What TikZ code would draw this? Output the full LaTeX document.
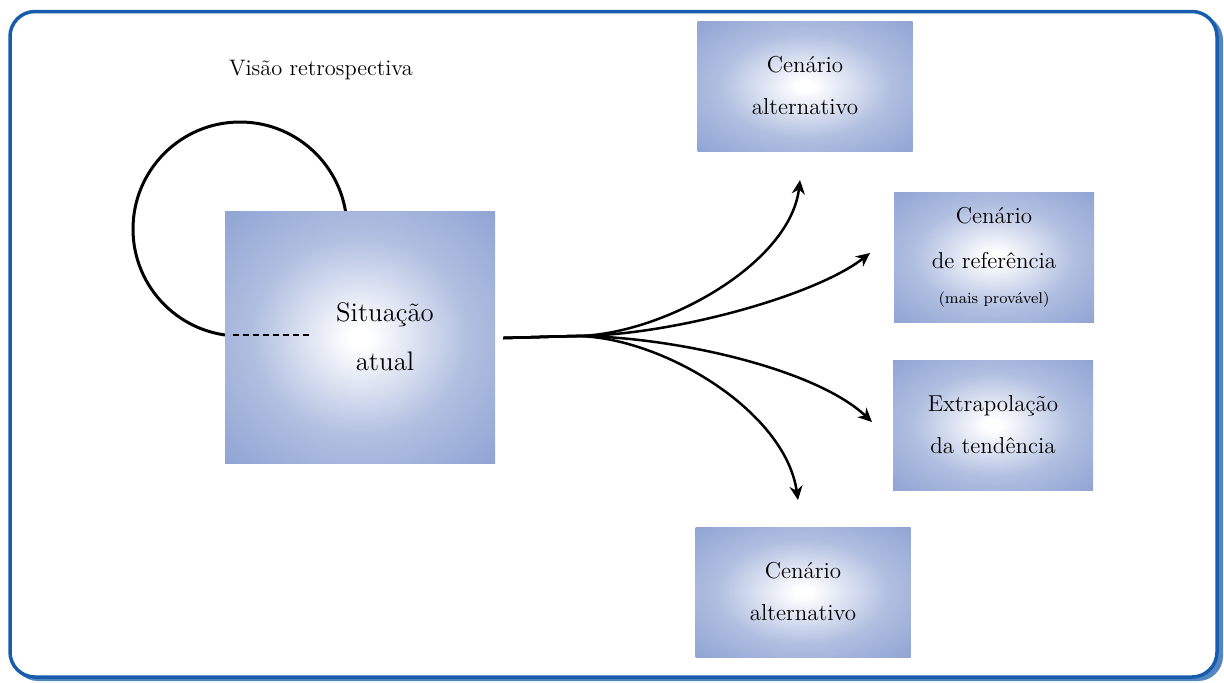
\documentclass[tikz,border=0pt]{standalone}
\usetikzlibrary{positioning,arrows.meta}
\definecolor{boxblue}{RGB}{124,148,204}
\definecolor{frameblue}{RGB}{24,92,172}
\pgfdeclareradialshading{boxglow}{\pgfpoint{0bp}{0bp}}{color(0bp)=(white); color(2bp)=(white); color(20bp)=(boxblue!60!white); color(40bp)=(boxblue!92!white); color(50bp)=(boxblue); color(72bp)=(boxblue)}

\begin{document}
\begin{tikzpicture}[x=0.5pt,y=-0.5pt,>={Stealth[length=7pt,width=6.5pt]},
    cenario/.style={shading=boxglow, minimum width=107.5pt, minimum height=65pt, inner sep=0pt, align=center, font=\fontsize{11.5}{21}\selectfont},
    seta/.style={->, line width=1.25pt}]

    \useasboundingbox (0,0) rectangle (1224,682);

    %Moldura
    \fill[frameblue!75, rounded corners=12.5pt] (13,15) rectangle (1223,681);
    \draw[frameblue, line width=1.75pt, fill=white, rounded corners=12.5pt] (10,11.5) rectangle (1217,677);

    %Visao retrospectiva
    \node[font=\fontsize{11.2}{13}\selectfont] (visao) at (321,70) {Visão retrospectiva};
    \node[circle, draw, line width=1.5pt, minimum size=107pt, inner sep=0pt] (laco) at (240,229) {};

    %Situacao atual
    \node[cenario, minimum width=135pt, minimum height=126pt] (situacao) at (360,337) {};
    \node[font=\fontsize{13.4}{24.5}\selectfont, align=center] (situacaotexto) at (385,337) {Situação\\atual};
    \draw[line width=1.25pt, dash pattern=on 3pt off 2pt] ([xshift=4pt,yshift=1pt]situacao.west) -- ++(79,0);

    %Cenarios
    \node[cenario] (alternativo1) at (805,86) {Cenário\\alternativo};
    \node[cenario, minimum width=100pt] (referencia) at (994,257) {Cenário\\[1.5pt]de referência\\[-3.5pt]{\fontsize{7.8}{9}\selectfont(mais provável)}};
    \node[cenario, minimum width=100pt] (extrapolacao) at (993,425) {Extrapolação\\da tendência};
    \node[cenario] (alternativo2) at (803,592) {Cenário\\alternativo};

    %Setas
    \coordinate (garfo) at (575,336);
    \coordinate (fim1) at (800,180);
    \coordinate (fim2) at (870,253);
    \coordinate (fim3) at (872,422);
    \coordinate (fim4) at (798,500);

    \draw[seta] ([xshift=4pt,yshift=-0.5pt]situacao.east) -- (garfo) .. controls (660,336) and (790,265) .. (fim1);
    \draw[seta] ([xshift=4pt,yshift=-0.5pt]situacao.east) -- (garfo) .. controls (670,336) and (815,296) .. (fim2);
    \draw[seta] ([xshift=4pt,yshift=-0.5pt]situacao.east) -- (garfo) .. controls (670,336) and (815,368) .. (fim3);
    \draw[seta] ([xshift=4pt,yshift=-0.5pt]situacao.east) -- (garfo) .. controls (660,336) and (785,410) .. (fim4);

\end{tikzpicture}
\end{document}
